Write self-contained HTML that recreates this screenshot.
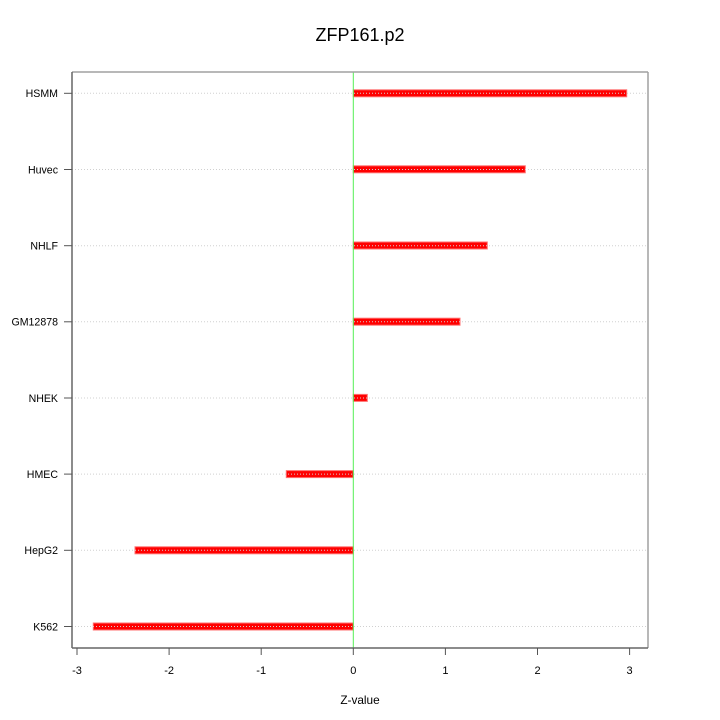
<!DOCTYPE html>
<html><head><meta charset="utf-8"><style>
html,body{margin:0;padding:0;background:#fff;}
svg{display:block;}
text{font-family:"Liberation Sans",Arial,sans-serif;fill:#000;}
</style></head><body>
<svg width="720" height="720" viewBox="0 0 720 720" xmlns="http://www.w3.org/2000/svg">
<rect x="0" y="0" width="720" height="720" fill="#fff"/>
<text x="360" y="41" font-size="18" text-anchor="middle">ZFP161.p2</text>

<!-- bars -->
<g fill="#ff0000" stroke="#ff7070" stroke-width="1">
<rect x="353.3" y="89.8" width="273.4" height="7"/>
<rect x="353.3" y="165.8" width="172" height="7"/>
<rect x="353.3" y="242" width="134" height="7"/>
<rect x="353.3" y="318.2" width="106.7" height="7"/>
<rect x="353.3" y="394.4" width="14" height="7"/>
<rect x="286.3" y="470.6" width="67" height="7"/>
<rect x="135" y="546.8" width="218.3" height="7"/>
<rect x="93.3" y="623" width="260" height="7"/>
</g>

<!-- grid lines -->
<g stroke="#d0d0d0" stroke-width="1" stroke-dasharray="1,2">
<line x1="72" y1="93.3" x2="648" y2="93.3"/>
<line x1="72" y1="169.5" x2="648" y2="169.5"/>
<line x1="72" y1="245.7" x2="648" y2="245.7"/>
<line x1="72" y1="321.8" x2="648" y2="321.8"/>
<line x1="72" y1="398" x2="648" y2="398"/>
<line x1="72" y1="474.1" x2="648" y2="474.1"/>
<line x1="72" y1="550.3" x2="648" y2="550.3"/>
<line x1="72" y1="626.5" x2="648" y2="626.5"/>
</g>

<!-- zero line -->
<line x1="353.3" y1="72" x2="353.3" y2="648" stroke="#55ee55" stroke-width="1"/>

<!-- box -->
<line x1="72" y1="72" x2="648" y2="72" stroke="#a0a0a0" stroke-width="1.5"/>
<line x1="648" y1="72" x2="648" y2="648" stroke="#a0a0a0" stroke-width="1.5"/>
<line x1="72" y1="72" x2="72" y2="648" stroke="#666" stroke-width="1.5"/>
<line x1="72" y1="648" x2="648" y2="648" stroke="#666" stroke-width="1.5"/>

<!-- y ticks -->
<g stroke="#555" stroke-width="1">
<line x1="64" y1="93.3" x2="72" y2="93.3"/>
<line x1="64" y1="169.5" x2="72" y2="169.5"/>
<line x1="64" y1="245.7" x2="72" y2="245.7"/>
<line x1="64" y1="321.8" x2="72" y2="321.8"/>
<line x1="64" y1="398" x2="72" y2="398"/>
<line x1="64" y1="474.1" x2="72" y2="474.1"/>
<line x1="64" y1="550.3" x2="72" y2="550.3"/>
<line x1="64" y1="626.5" x2="72" y2="626.5"/>
</g>
<g font-size="10.6" text-anchor="end">
<text x="58" y="97.2">HSMM</text>
<text x="58" y="173.4">Huvec</text>
<text x="58" y="249.6">NHLF</text>
<text x="58" y="325.7">GM12878</text>
<text x="58" y="401.9">NHEK</text>
<text x="58" y="478">HMEC</text>
<text x="58" y="554.2">HepG2</text>
<text x="58" y="630.4">K562</text>
</g>

<!-- x ticks -->
<g stroke="#555" stroke-width="1">
<line x1="77" y1="648" x2="77" y2="655"/>
<line x1="169.1" y1="648" x2="169.1" y2="655"/>
<line x1="261.2" y1="648" x2="261.2" y2="655"/>
<line x1="353.3" y1="648" x2="353.3" y2="655"/>
<line x1="445.4" y1="648" x2="445.4" y2="655"/>
<line x1="537.5" y1="648" x2="537.5" y2="655"/>
<line x1="629.6" y1="648" x2="629.6" y2="655"/>
</g>
<g font-size="11" text-anchor="middle">
<text x="77" y="674">-3</text>
<text x="169.1" y="674">-2</text>
<text x="261.2" y="674">-1</text>
<text x="353.3" y="674">0</text>
<text x="445.4" y="674">1</text>
<text x="537.5" y="674">2</text>
<text x="629.6" y="674">3</text>
</g>
<text x="360" y="704" font-size="11.8" text-anchor="middle">Z-value</text>
</svg>
</body></html>
